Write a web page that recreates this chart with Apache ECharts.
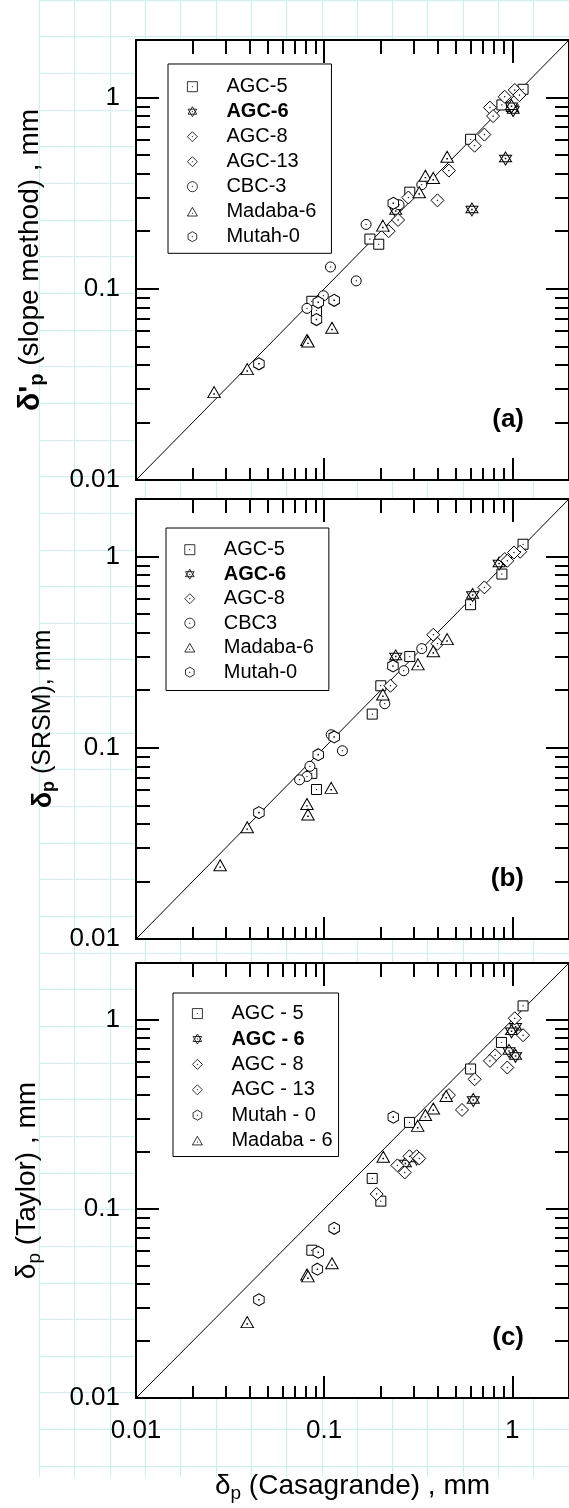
<!DOCTYPE html>
<html><head><meta charset="utf-8">
<script src="https://cdn.jsdelivr.net/npm/echarts@6/dist/echarts.min.js"></script>
<style>html,body{margin:0;padding:0;background:#fff}#c{width:569px;height:1508px}</style>
</head><body><div id="c"></div>
<script>
// ---------- axis data ----------
const axisMin = 0.01, axisMax = 2;
const majorTicks = [0.01, 0.1, 1];
const tickLabels = ['0.01', '0.1', '1'];
const minorTicks = [0.02,0.03,0.04,0.05,0.06,0.07,0.08,0.09,0.2,0.3,0.4,0.5,0.6,0.7,0.8,0.9];
const diagonal = [[0.01, 0.01], [2, 2]];

// ---------- panel (a): slope method vs Casagrande ----------
const a_AGC5 = [[1.14,1.105],[0.88,0.915],[0.60,0.605],[0.285,0.32],[0.175,0.182],[0.195,0.171],[0.086,0.086],[0.091,0.077]];
const a_AGC6 = [[1.0,0.88],[1.01,0.86],[0.99,0.90],[0.92,0.48],[0.61,0.26],[0.24,0.255]];
const a_AGC8 = [[1.03,1.095],[0.91,1.01],[0.76,0.886],[0.79,0.80],[0.63,0.56],[0.71,0.64]];
const a_AGC13 = [[1.09,1.03],[0.46,0.415],[0.40,0.29],[0.28,0.30],[0.247,0.229],[0.22,0.20]];
const a_CBC3 = [[0.33,0.35],[0.25,0.275],[0.167,0.217],[0.108,0.13],[0.148,0.11],[0.099,0.092],[0.081,0.079]];
const a_Madaba6 = [[0.45,0.49],[0.345,0.39],[0.38,0.38],[0.32,0.32],[0.205,0.214],[0.11,0.0626],[0.081,0.054],[0.082,0.053],[0.039,0.038],[0.026,0.0288]];
const a_Mutah0 = [[0.233,0.28],[0.093,0.085],[0.113,0.087],[0.091,0.069],[0.045,0.0405]];

// ---------- panel (b): SRSM vs Casagrande ----------
const b_AGC5 = [[1.14,1.16],[0.88,0.81],[0.60,0.56],[0.285,0.30],[0.20,0.211],[0.18,0.15],[0.086,0.0735],[0.091,0.0605]];
const b_AGC6 = [[0.85,0.92],[0.615,0.63],[0.24,0.30]];
const b_AGC8 = [[1.10,1.06],[1.02,1.05],[0.91,0.97],[0.94,0.95],[0.71,0.69],[0.38,0.39],[0.40,0.35],[0.225,0.211]];
const b_CBC3 = [[0.33,0.33],[0.265,0.253],[0.21,0.17],[0.109,0.117],[0.125,0.0965],[0.084,0.080],[0.081,0.0708],[0.074,0.068]];
const b_Madaba6 = [[0.45,0.37],[0.38,0.32],[0.315,0.273],[0.205,0.19],[0.109,0.0617],[0.081,0.0508],[0.082,0.0448],[0.039,0.0384],[0.028,0.0243]];
const b_Mutah0 = [[0.232,0.268],[0.113,0.114],[0.093,0.092],[0.045,0.0458]];

// ---------- panel (c): Taylor vs Casagrande ----------
const c_AGC5 = [[1.14,1.186],[0.875,0.76],[0.60,0.55],[0.284,0.287],[0.18,0.145],[0.20,0.11],[0.086,0.0605]];
const c_AGC6 = [[1.04,0.92],[0.99,0.87],[0.96,0.685],[1.04,0.645],[0.62,0.377],[0.31,0.185],[0.27,0.174]];
const c_AGC8 = [[1.03,1.02],[1.14,0.83],[0.81,0.65],[0.76,0.607],[0.94,0.56],[0.63,0.485],[0.54,0.334]];
const c_AGC13 = [[0.46,0.40],[0.284,0.19],[0.31,0.19],[0.32,0.185],[0.245,0.17],[0.268,0.156],[0.19,0.12]];
const c_Mutah0 = [[0.233,0.306],[0.113,0.079],[0.093,0.059],[0.092,0.048],[0.045,0.0331]];
const c_Madaba6 = [[0.445,0.396],[0.38,0.34],[0.345,0.314],[0.314,0.275],[0.206,0.189],[0.11,0.0516],[0.081,0.045],[0.082,0.044],[0.039,0.0252]];

// ---------- styling ----------
const FONT = '"Liberation Sans", Arial, sans-serif';
const SYM = {
  square: 'path://M0,0H100V100H0Z M48,48H52V52H48Z',
  star: 'path://M50,0L93.3,75H6.7Z M50,100L6.7,25H93.3Z M48,48H52V52H48Z',
  diamond: 'path://M50,0L100,50L50,100L0,50Z M48,48H52V52H48Z',
  circle: 'path://M0,50A50,50,0,1,1,100,50A50,50,0,1,1,0,50Z M48,48H52V52H48Z',
  triangle: 'path://M50,0L100,86.6H0Z M48,56H52V60H48Z',
  hexagon: 'path://M50,0L93.3,25V75L50,100L6.7,75V25Z M48,48H52V52H48Z'
};
const SIZE = { square: 10, star: [12, 13], diamond: 13, circle: 10, triangle: [12.5, 11], hexagon: [10.5, 12] };

const panels = [
  { top: 40, height: 440, series: [
      ['AGC-5', 'square', a_AGC5], ['AGC-6', 'star', a_AGC6], ['AGC-8', 'diamond', a_AGC8],
      ['AGC-13', 'diamond', a_AGC13], ['CBC-3', 'circle', a_CBC3], ['Madaba-6', 'triangle', a_Madaba6],
      ['Mutah-0', 'hexagon', a_Mutah0]],
    yName: "{d|δ'}{s|p}{t| (slope method) , mm}", yGap: 89,
    legend: { left: 168, top: 64, padding: [12.7, 15, 6.6, 19], gap: 5 }, tag: '(a)' },
  { top: 499, height: 440, series: [
      ['AGC-5', 'square', b_AGC5], ['AGC-6', 'star', b_AGC6], ['AGC-8', 'diamond', b_AGC8],
      ['CBC3', 'circle', b_CBC3], ['Madaba-6', 'triangle', b_Madaba6], ['Mutah-0', 'hexagon', b_Mutah0]],
    yName: '{d2|δ}{s2|p}{t2| (SRSM), mm}', yGap: 59,
    legend: { left: 166, top: 528, padding: [11.7, 15, 8.3, 18.4], gap: 4.5 }, tag: '(b)' },
  { top: 963, height: 435, series: [
      ['AGC - 5', 'square', c_AGC5], ['AGC - 6', 'star', c_AGC6], ['AGC - 8', 'diamond', c_AGC8],
      ['AGC - 13', 'diamond', c_AGC13], ['Mutah - 0', 'hexagon', c_Mutah0], ['Madaba - 6', 'triangle', c_Madaba6]],
    yName: '{r|δ}{rs|p}{t| (Taylor) , mm}', yGap: 92,
    legend: { left: 173, top: 993, padding: [10.6, 6, 5.9, 19], gap: 5.4 }, tag: '(c)' }
];

const txt = (size, extra) => Object.assign({ fontSize: size, fontFamily: FONT, color: '#000' }, extra);
const nameRich = {
  d: txt(30, { fontWeight: 'bold', lineHeight: 33, verticalAlign: 'middle' }),
  s: txt(20, { fontWeight: 'bold', lineHeight: 15, verticalAlign: 'bottom' }),
  t: txt(28, { lineHeight: 33, verticalAlign: 'middle' }),
  r: txt(28, { lineHeight: 33, verticalAlign: 'middle' }),
  rs: txt(19, { lineHeight: 15, verticalAlign: 'bottom' }),
  d2: txt(27, { fontWeight: 'bold', lineHeight: 30, verticalAlign: 'middle' }),
  s2: txt(18, { fontWeight: 'bold', lineHeight: 14, verticalAlign: 'bottom' }),
  t2: txt(25, { lineHeight: 30, verticalAlign: 'middle' })
};

function majorLabel(v) {
  for (let i = 0; i < majorTicks.length; i++) {
    if (Math.abs(Math.log10(v) - Math.log10(majorTicks[i])) < 1e-6) return tickLabels[i];
  }
  return '';
}

const black2 = { color: '#000', width: 2 };
const grids = [], xAxes = [], yAxes = [], series = [], legends = [], graphics = [];

panels.forEach((p, g) => {
  grids.push({ left: 136, top: p.top, width: 439, height: p.height, show: true, backgroundColor: '#fff', borderWidth: 0, z: 2 });
  const base = { gridIndex: g, type: 'log', logBase: 10, min: axisMin, max: axisMax, splitLine: { show: false }, minorTick: { show: false }, z: 6 };
  const isLast = g === panels.length - 1;
  xAxes.push(Object.assign({}, base, {
    position: 'bottom', axisLine: { show: true, onZero: false, lineStyle: black2 },
    axisTick: { show: true, inside: true, length: 22, lineStyle: black2, customValues: majorTicks },
    axisLabel: { show: isLast, customValues: majorTicks, formatter: majorLabel, fontSize: 26, fontFamily: FONT, color: '#000', margin: 20 },
    name: isLast ? '{r|δ}{rs|p}{t| (Casagrande) , mm}' : '', nameLocation: 'middle', nameGap: 72,
    nameTextStyle: { rich: nameRich }
  }));
  xAxes.push(Object.assign({}, base, {
    position: 'bottom', axisLine: { show: false, onZero: false },
    axisTick: { show: true, inside: true, length: 12, lineStyle: black2, customValues: minorTicks },
    axisLabel: { show: false }
  }));
  xAxes.push(Object.assign({}, base, {
    position: 'top', axisLine: { show: true, onZero: false, lineStyle: black2 },
    axisTick: { show: true, inside: true, length: 23, lineStyle: black2, customValues: majorTicks },
    axisLabel: { show: false }
  }));
  xAxes.push(Object.assign({}, base, {
    position: 'top', axisLine: { show: false, onZero: false },
    axisTick: { show: true, inside: true, length: 14, lineStyle: black2, customValues: minorTicks },
    axisLabel: { show: false }
  }));
  yAxes.push(Object.assign({}, base, {
    position: 'left', axisLine: { show: true, onZero: false, lineStyle: black2 },
    axisTick: { show: true, inside: true, length: 23, lineStyle: black2, customValues: majorTicks },
    axisLabel: { show: true, customValues: majorTicks, formatter: majorLabel, fontSize: 26, fontFamily: FONT, color: '#000', margin: 16 },
    name: p.yName, nameLocation: 'middle', nameRotate: 90, nameGap: p.yGap,
    nameTextStyle: { rich: nameRich }
  }));
  yAxes.push(Object.assign({}, base, {
    position: 'left', axisLine: { show: false, onZero: false },
    axisTick: { show: true, inside: true, length: 14, lineStyle: black2, customValues: minorTicks },
    axisLabel: { show: false }
  }));
  yAxes.push(Object.assign({}, base, {
    position: 'right', axisLine: { show: true, onZero: false, lineStyle: black2 },
    axisTick: { show: true, inside: true, length: 23, lineStyle: black2, customValues: majorTicks },
    axisLabel: { show: false }
  }));
  yAxes.push(Object.assign({}, base, {
    position: 'right', axisLine: { show: false, onZero: false },
    axisTick: { show: true, inside: true, length: 14, lineStyle: black2, customValues: minorTicks },
    axisLabel: { show: false }
  }));

  series.push({ type: 'line', xAxisIndex: 4 * g, yAxisIndex: 4 * g, data: diagonal, symbol: 'none',
    lineStyle: { color: '#000', width: 1 }, silent: true, z: 4 });
  p.series.forEach(([name, shape, data]) => {
    series.push({ type: 'scatter', name, xAxisIndex: 4 * g, yAxisIndex: 4 * g, data,
      symbol: SYM[shape], symbolSize: SIZE[shape],
      itemStyle: { color: '#fff', borderColor: '#000', borderWidth: 1, opacity: 1 }, silent: true, z: 5 });
  });

  legends.push({
    data: p.series.map(s => s[0]), orient: 'vertical', left: p.legend.left, top: p.legend.top,
    padding: p.legend.padding, itemWidth: 10, itemHeight: 10, itemGap: p.legend.gap,
    backgroundColor: '#fff', borderColor: '#000', borderWidth: 1, borderRadius: 0,
    selectedMode: false, z: 8,
    itemStyle: { color: '#fff', borderColor: '#000', borderWidth: 0.8, opacity: 1 },
    formatter: n => (/AGC ?- ?6$/.test(n) ? '{b|' + n + '}' : n),
    textStyle: { fontSize: 20, fontFamily: FONT, color: '#000', lineHeight: 20, padding: [0, 0, 0, 24],
      rich: { b: { fontSize: 20, fontWeight: 'bold', fontFamily: FONT, color: '#000', lineHeight: 20 } } }
  });

  graphics.push({ type: 'text', x: 524, y: p.top + p.height - 60, z: 10,
    style: { text: p.tag, font: 'bold 26px ' + FONT, fill: '#000', align: 'right', verticalAlign: 'middle' } });
});

// background graph paper
grids.push({ left: 39.2, top: 0, width: 15 * 36.54, height: 1477, show: false, z: 0 });
xAxes.push({ gridIndex: 3, type: 'value', min: 0, max: 15, interval: 1, axisLine: { show: false }, axisTick: { show: false },
  axisLabel: { show: false }, splitLine: { show: true, lineStyle: { color: '#c4f4f4', width: 1 } }, z: 0 });
yAxes.push({ gridIndex: 3, type: 'value', inverse: true, min: 0, max: 40.3, interval: 1, axisLine: { show: false }, axisTick: { show: false },
  axisLabel: { show: false }, splitLine: { show: true, showMaxLine: false, lineStyle: { color: '#c4f4f4', width: 1 } }, z: 0 });

const chart = echarts.init(document.getElementById('c'), null, { renderer: 'canvas', width: 569, height: 1508 });
chart.setOption({
  backgroundColor: '#fff', animation: false,
  grid: grids, xAxis: xAxes, yAxis: yAxes, series, legend: legends, graphic: graphics
});
</script></body></html>
